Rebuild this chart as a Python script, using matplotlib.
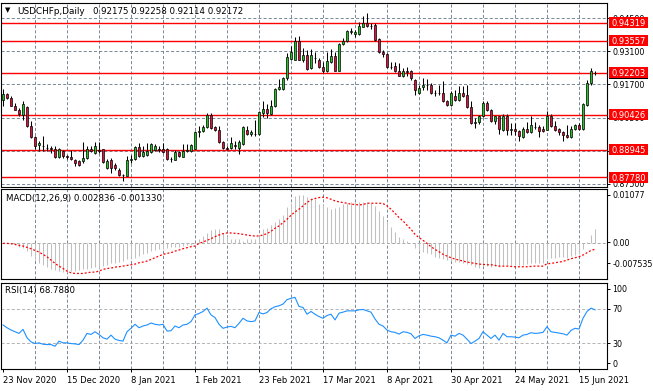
import matplotlib
matplotlib.use("Agg")
import matplotlib.pyplot as plt
import matplotlib.transforms as mtransforms
from matplotlib.patches import Rectangle
import numpy as np

plt.rcParams['font.family'] = ['DejaVu Sans']
plt.rcParams['lines.scale_dashes'] = False

# ---------------- data ----------------
symbol_title = "USDCHFp,Daily"
header_quote = "0.92175 0.92258 0.92114 0.92172"

opens = [
    .9106, .9129, .9113, .9080, .9063, .9042, .9075, .8993, .8948, .8912,
    .8910, .8901, .8900, .8898, .8864, .8888, .8866, .8864, .8850, .8845,
    .8845, .8860, .8897, .8878, .8892, .8895, .8817, .8852, .8831, .8810,
    .8786, .8784, .8850, .8855, .8906, .8866, .8870, .8883, .8892, .8897,
    .8897, .8895, .8855, .8852, .8885, .8864, .8890, .8888, .8897, .8968,
    .8972, .8990, .9042, .8990, .8979, .8926, .8902, .8900, .8912, .8902,
    .8919, .8979, .8961, .8962, .8961, .9049, .9066, .9046, .9077, .9151,
    .9151, .9197, .9277, .9274, .9356, .9274, .9295, .9239, .9281, .9274,
    .9246, .9225, .9267, .9291, .9229, .9342, .9356, .9394, .9383, .9384,
    .9415, .9432, .9418, .9422, .9361, .9309, .9300, .9246, .9250, .9225,
    .9207, .9225, .9225, .9190, .9136, .9158, .9169, .9169, .9135, .9136,
    .9134, .9101, .9082, .9120, .9103, .9134, .9124, .9075, .9008, .9010,
    .9035, .9091, .9060, .9014, .9035, .8979, .9038, .8979, .8983, .8972,
    .8948, .8982, .8968, .8990, .8990, .8982, .8979, .9038, .8993, .8982,
    .8968, .8958, .8948, .8982, .9000, .8982, .9082, .9176, .92175]

highs = [
    .9151, .9134, .9120, .9091, .9070, .9098, .9077, .9014, .8951, .8930,
    .8951, .8916, .8909, .8911, .8902, .8892, .8873, .8892, .8855, .8852,
    .8926, .8909, .8909, .8926, .8926, .8897, .8855, .8860, .8838, .8817,
    .8789, .8866, .8873, .8909, .8923, .8909, .8923, .8923, .8920, .8911,
    .8923, .8902, .8862, .8892, .8890, .8920, .8920, .8916, .8972, .8996,
    .9000, .9049, .9049, .8996, .8996, .8930, .8909, .8948, .8930, .8937,
    .8996, .8996, .8976, .9021, .9056, .9098, .9087, .9103, .9155, .9193,
    .9201, .9305, .9331, .9373, .9375, .9324, .9316, .9319, .9309, .9281,
    .9267, .9309, .9319, .9309, .9347, .9366, .9401, .9408, .9401, .9436,
    .9460, .9471, .9429, .9429, .9366, .9316, .9302, .9267, .9267, .9260,
    .9239, .9246, .9232, .9193, .9169, .9197, .9193, .9176, .9148, .9169,
    .9186, .9106, .9141, .9148, .9165, .9165, .9169, .9098, .9028, .9042,
    .9098, .9098, .9066, .9038, .9038, .9046, .9046, .9007, .9007, .8979,
    .8989, .9010, .9035, .9010, .9000, .8993, .9056, .9046, .9014, .8986,
    .8972, .9000, .8996, .9004, .9007, .9091, .9190, .9239, .92258]

lows = [
    .9077, .9108, .9077, .9060, .9038, .9021, .8990, .8945, .8895, .8888,
    .8888, .8888, .8881, .8860, .8860, .8860, .8855, .8852, .8824, .8827,
    .8838, .8855, .8883, .8874, .8881, .8836, .8813, .8796, .8807, .8782,
    .8761, .8782, .8838, .8852, .8864, .8864, .8866, .8880, .8888, .8883,
    .8880, .8852, .8841, .8850, .8864, .8861, .8883, .8885, .8895, .8948,
    .8969, .8986, .8982, .8972, .8923, .8895, .8892, .8895, .8897, .8874,
    .8914, .8958, .8954, .8951, .8958, .9032, .9028, .9042, .9075, .9148,
    .9145, .9190, .9274, .9272, .9272, .9267, .9232, .9235, .9260, .9239,
    .9218, .9221, .9260, .9225, .9225, .9337, .9352, .9384, .9373, .9380,
    .9412, .9412, .9404, .9356, .9305, .9288, .9239, .9235, .9221, .9204,
    .9201, .9207, .9190, .9127, .9131, .9148, .9148, .9131, .9120, .9127,
    .9096, .9080, .9077, .9098, .9098, .9117, .9070, .9004, .8986, .9004,
    .9032, .9056, .9010, .9004, .8962, .8972, .8958, .8958, .8958, .8930,
    .8944, .8965, .8965, .8982, .8948, .8969, .8976, .8990, .8972, .8958,
    .8930, .8944, .8944, .8979, .8976, .8976, .9080, .9166, .92114]

closes = [
    .9129, .9113, .9080, .9063, .9045, .9087, .8993, .8948, .8909, .8923,
    .8908, .8902, .8898, .8864, .8895, .8866, .8862, .8855, .8838, .8831,
    .8860, .8897, .8888, .8909, .8888, .8841, .8845, .8817, .8817, .8786,
    .8787, .8852, .8855, .8906, .8866, .8883, .8888, .8916, .8909, .8892,
    .8883, .8855, .8853, .8885, .8866, .8888, .8893, .8912, .8968, .8972,
    .8990, .9042, .8986, .8979, .8926, .8902, .8898, .8923, .8909, .8927,
    .8990, .8961, .8969, .8960, .9052, .9066, .9049, .9080, .9151, .9159,
    .9197, .9286, .9309, .9356, .9274, .9295, .9235, .9295, .9283, .9246,
    .9225, .9270, .9291, .9229, .9342, .9356, .9397, .9396, .9394, .9418,
    .9432, .9418, .9416, .9359, .9309, .9300, .9246, .9242, .9225, .9207,
    .9225, .9223, .9197, .9148, .9155, .9169, .9167, .9136, .9132, .9134,
    .9099, .9082, .9134, .9103, .9134, .9122, .9075, .9007, .9010, .9035,
    .9091, .9060, .9014, .9035, .8982, .9038, .8976, .8980, .8972, .8951,
    .8982, .8968, .9000, .8988, .8975, .8972, .9038, .8993, .8976, .8968,
    .8958, .8948, .8982, .9000, .8982, .9089, .9176, .9225, .92172]

macd_main = [
    -0.00014, -0.00014, -0.00027, -0.00054, -0.00081, -0.00108, -0.0017, -0.00271, -0.00353, -0.0042,
    -0.00461, -0.00488, -0.00542, -0.00556, -0.00576, -0.0059, -0.00597, -0.00583, -0.00576, -0.00556,
    -0.00542, -0.00529, -0.00509, -0.00502, -0.00509, -0.00475, -0.00447, -0.0042, -0.00407, -0.00393,
    -0.00373, -0.00339, -0.00325, -0.00305, -0.00271, -0.00237, -0.00203, -0.0017, -0.00149, -0.00136,
    -0.00122, -0.00102, -0.00088, -0.00081, -0.00081, -0.00068, -0.00054, -0.00047, -0.00014, 0.00081,
    0.00136, 0.00203, 0.00258, 0.00271, 0.00271, 0.00203, 0.00136, 0.00081, 0.00068, 0.00068,
    0.00034, 0.00068, 0.00068, 0.00081, 0.00136, 0.00271, 0.00305, 0.00353, 0.0042, 0.00475,
    0.00556, 0.00732, 0.00813, 0.00949, 0.00963, 0.00969, 0.00929, 0.00915, 0.00881, 0.0078,
    0.00759, 0.00732, 0.00691, 0.00705, 0.00732, 0.0078, 0.00814, 0.00827, 0.00827, 0.00827,
    0.00827, 0.00827, 0.00814, 0.00746, 0.00644, 0.00542, 0.00441, 0.00319, 0.00217, 0.00122,
    0.00068, 0.00034, -0.00014, -0.00102, -0.0017, -0.0019, -0.00203, -0.00237, -0.00285, -0.00305,
    -0.00325, -0.00353, -0.0038, -0.00393, -0.00393, -0.00407, -0.00427, -0.00461, -0.00488, -0.00509,
    -0.00475, -0.00475, -0.00488, -0.00475, -0.00488, -0.00461, -0.00461, -0.00454, -0.00454, -0.00461,
    -0.00447, -0.00434, -0.0042, -0.0042, -0.0042, -0.00407, -0.00325, -0.00305, -0.00305, -0.00298,
    -0.00298, -0.00305, -0.00271, -0.00244, -0.00237, -0.00122, 0.00014, 0.00163, 0.002836]

macd_signal = [
    -0.00014, -0.00014, -0.00020, -0.00034, -0.00054, -0.00068, -0.00095, -0.00122, -0.00156, -0.00190,
    -0.00237, -0.00285, -0.00353, -0.00420, -0.00475, -0.00522, -0.00576, -0.00610, -0.00624, -0.00624,
    -0.00624, -0.00610, -0.00597, -0.00597, -0.00576, -0.00542, -0.00522, -0.00515, -0.00495, -0.00488,
    -0.00475, -0.00461, -0.00447, -0.00434, -0.00407, -0.00393, -0.00373, -0.00339, -0.00305, -0.00271,
    -0.00237, -0.00217, -0.00203, -0.00170, -0.00149, -0.00122, -0.00102, -0.00081, -0.00068, -0.00014,
    0.00014, 0.00047, 0.00081, 0.00122, 0.00156, 0.00183, 0.00197, 0.00197, 0.00190, 0.00183,
    0.00170, 0.00156, 0.00142, 0.00136, 0.00136, 0.00156, 0.00183, 0.00231, 0.00292, 0.00339,
    0.00407, 0.00475, 0.00556, 0.00624, 0.00678, 0.00746, 0.00814, 0.00868, 0.00895, 0.00915,
    0.00922, 0.00909, 0.00881, 0.00848, 0.00827, 0.00814, 0.00800, 0.00780, 0.00773, 0.00766,
    0.00773, 0.00800, 0.00800, 0.00800, 0.00800, 0.00793, 0.00746, 0.00678, 0.00597, 0.00509,
    0.00441, 0.00353, 0.00271, 0.00170, 0.00102, 0.00047, -0.00014, -0.00081, -0.00136, -0.00183,
    -0.00237, -0.00271, -0.00305, -0.00332, -0.00353, -0.00373, -0.00393, -0.00407, -0.00420, -0.00434,
    -0.00441, -0.00447, -0.00447, -0.00461, -0.00475, -0.00475, -0.00475, -0.00481, -0.00488, -0.00488,
    -0.00488, -0.00488, -0.00481, -0.00475, -0.00475, -0.00475, -0.00427, -0.00420, -0.00407, -0.00393,
    -0.00380, -0.00353, -0.00325, -0.00305, -0.00285, -0.00251, -0.00203, -0.00156, -0.00133]

rsi_values = [
    51.2, 48.0, 45.3, 43.3, 41.4, 46.1, 36.3, 31.6, 29.6, 30.4,
    28.8, 28.4, 28.4, 26.5, 32.4, 30.4, 30.4, 29.6, 29.2, 28.4,
    33.5, 41.4, 40.2, 43.3, 40.2, 36.3, 34.7, 39.4, 34.7, 33.2,
    32.4, 43.3, 47.3, 52.0, 48.0, 50.0, 51.2, 53.5, 52.0, 51.2,
    52.0, 44.1, 44.5, 50.0, 48.0, 51.2, 52.0, 55.1, 62.9, 64.5,
    66.9, 70.8, 62.9, 59.8, 52.0, 47.3, 48.8, 49.6, 48.0, 53.1,
    59.0, 55.9, 55.1, 55.9, 65.7, 64.1, 65.7, 70.0, 72.4, 73.5,
    75.5, 80.6, 82.2, 83.3, 72.7, 71.6, 63.7, 66.9, 63.7, 61.0,
    59.0, 62.2, 63.7, 57.1, 64.9, 66.1, 67.6, 67.6, 67.6, 68.8,
    69.2, 67.6, 66.1, 58.2, 52.0, 50.0, 45.3, 43.3, 42.6, 40.6,
    43.3, 42.6, 41.0, 35.5, 38.6, 40.2, 39.4, 38.2, 37.5, 36.3,
    33.5, 30.4, 39.4, 38.2, 41.4, 39.4, 34.7, 29.6, 32.4, 35.5,
    43.3, 39.4, 35.5, 39.4, 33.5, 41.4, 37.5, 37.5, 37.1, 36.3,
    39.4, 40.2, 42.2, 41.4, 41.8, 42.6, 49.2, 43.3, 42.6, 41.8,
    41.0, 39.4, 44.9, 47.3, 46.5, 59.0, 66.9, 70.8, 68.788]

date_labels = ["23 Nov 2020", "15 Dec 2020", "8 Jan 2021", "1 Feb 2021", "23 Feb 2021",
               "17 Mar 2021", "8 Apr 2021", "30 Apr 2021", "24 May 2021", "15 Jun 2021"]
date_label_bars = [0, 16, 32, 48, 64, 80, 96, 112, 128, 144]

price_ticks = [0.945, 0.931, 0.917, 0.903, 0.889, 0.875]
sr_levels = [0.94319, 0.93557, 0.92203, 0.90426, 0.88945, 0.87780]
bid_price = 0.92172

macd_label = "MACD(12,26,9) 0.002836 -0.001330"
macd_tick_labels = ["0.01077", "0.00", "-0.007535"]
rsi_label = "RSI(14) 68.7880"
rsi_levels = [70, 30]
rsi_tick_labels = ["100", "70", "30", "0"]

# ---------------- layout / style ----------------
W, H = 653, 391
GRID = '#778899'
DASH = (0, (2.2, 1.5))
BULL = '#22c322'
BEAR = '#dc143c'
FS = 5.7

fig = plt.figure(figsize=(W / 100, H / 100), dpi=100)
fig.patch.set_facecolor('white')


def rect(x0, y0, x1, y1):
    return [x0 / W, 1 - y1 / H, (x1 - x0) / W, (y1 - y0) / H]


ax1 = fig.add_axes(rect(1, 3, 607, 187))
ax2 = fig.add_axes(rect(1, 189, 607, 279))
ax3 = fig.add_axes(rect(1, 283, 607, 369))

for ax in (ax1, ax2, ax3):
    ax.set_xlim(-0.5, 151)
    ax.set_facecolor('white')
    for s in ax.spines.values():
        s.set_linewidth(0.8)
        s.set_color('black')
    ax.yaxis.tick_right()
    ax.tick_params(axis='y', direction='out', length=2.2, width=0.7, pad=1.6,
                   labelsize=FS, colors='black')
    for g in range(8, 151, 8):
        ax.axvline(g, color=GRID, lw=0.7, ls=DASH, zorder=0.5)
    ax.set_xticks([])

# ---------- main price pane ----------
ax1.set_ylim(0.8736, 0.9515)
ax1.set_yticks(price_ticks, labels=[f"{v:.5f}" for v in price_ticks])
for v in price_ticks:
    ax1.axhline(v, color=GRID, lw=0.7, ls=DASH, zorder=0.5)
for lv in sr_levels:
    ax1.axhline(lv, color='#ff0000', lw=1.0, zorder=2, snap=True)

xp = np.arange(len(closes))
o = np.array(opens[:len(xp)])
h = np.array(highs[:len(xp)])
l = np.array(lows[:len(xp)])
c = np.array(closes)
fills = [BULL if cc >= oo else BEAR for oo, cc in zip(o, c)]
ax1.vlines(xp, l, h, color='black', lw=0.75, zorder=3)
ax1.bar(xp, c - o, bottom=o, width=0.62, color=fills, edgecolor='black',
        linewidth=0.5, zorder=4)

# right-side price boxes
trans = mtransforms.blended_transform_factory(ax1.transAxes, ax1.transData)
y0, y1 = ax1.get_ylim()
px = (y1 - y0) / 184.0
bx0 = (609 - 1) / 606.0
bw = (648 - 609) / 606.0
bh = 11 * px
ax1.add_patch(Rectangle((bx0, bid_price - bh / 2), bw, bh, transform=trans,
                        facecolor='black', edgecolor='none', clip_on=False, zorder=5))
for lv in sr_levels:
    ax1.add_patch(Rectangle((bx0, lv - bh / 2), bw, bh, transform=trans,
                            facecolor='#ff0000', edgecolor='none', clip_on=False, zorder=6))
    ax1.text(bx0 + bw / 2, lv, f"{lv:.5f}", transform=trans, ha='center',
             va='center_baseline', color='white', fontsize=6, clip_on=False, zorder=7)

# ---------- MACD pane ----------
m0, m1 = -0.00736, 0.01088
ax2.set_ylim(m0, m1)
xm = np.arange(len(macd_main))
ax2.vlines(xm, 0, macd_main, color='#c0c0c0', lw=0.75, zorder=2)
xs = np.arange(len(macd_signal))
ax2.plot(xs, macd_signal, color='red', lw=0.9, ls=(0, (1.4, 1.4)), zorder=3)
ax2.axhline(0, color='#a8a8a8', lw=0.7, ls=DASH, zorder=1)
label_rows = [195, 242.3, 263.3]  # pixel rows of the MT4 scale labels
macd_tick_pos = [m1 - (r - 189) / 90.0 * (m1 - m0) for r in label_rows]
ax2.set_yticks(macd_tick_pos, labels=macd_tick_labels)

# ---------- RSI pane ----------
ax3.set_ylim(0, 100)
for lv in rsi_levels:
    ax3.axhline(lv, color='#b4b4b4', lw=0.7, ls=DASH, zorder=1)
xr = np.arange(len(rsi_values))
ax3.plot(xr, rsi_values, color='#1e90ff', lw=0.8, zorder=3)
ax3.set_yticks([93.5, 70, 30, 6.5], labels=rsi_tick_labels)
ax3.set_xticks(date_label_bars, labels=date_labels)
ax3.tick_params(axis='x', direction='out', length=2.5, width=0.7, pad=2.5,
                labelsize=6, colors='black')
for lbl in ax3.get_xticklabels():
    lbl.set_horizontalalignment('left')

# ---------- header texts ----------
fig.text(5 / W, 1 - 10.5 / H, "\u25BC", fontsize=5, va='center', ha='left', color='black')
fig.text(17 / W, 1 - 11 / H, symbol_title, fontsize=6.4, va='center', ha='left', color='black')
fig.text(93 / W, 1 - 11 / H, header_quote, fontsize=6.2, va='center', ha='left', color='black')
fig.text(6 / W, 1 - 199 / H, macd_label, fontsize=6.2, va='center', ha='left', color='black')
fig.text(5 / W, 1 - 290 / H, rsi_label, fontsize=6.2, va='center', ha='left', color='black')

fig.savefig("out.png", dpi=100, facecolor='white')
